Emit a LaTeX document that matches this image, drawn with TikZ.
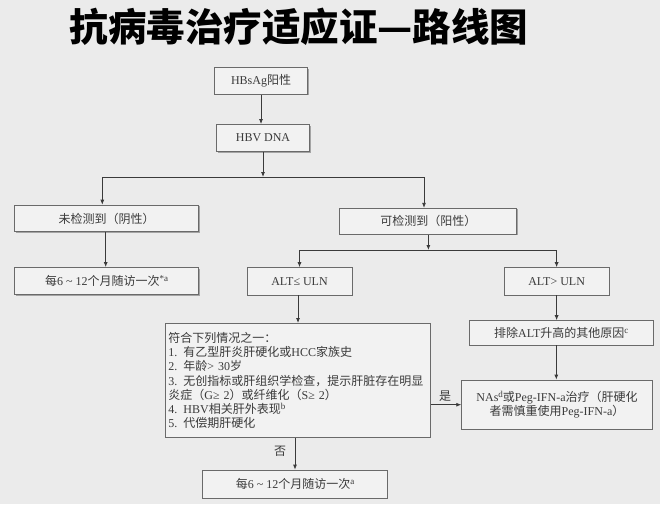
\documentclass[tikz,border=0pt]{standalone}
\usepackage{fontspec}
\setmainfont{Noto Sans CJK SC}
\newfontfamily\latinf{Liberation Serif}
\usetikzlibrary{arrows.meta,shadows}
\definecolor{bg}{HTML}{EBEBEB}
\definecolor{boxfill}{HTML}{F2F2F2}
\definecolor{boxline}{HTML}{6A6A6A}
\definecolor{txt}{HTML}{3A3A3A}
\newcommand\lt[1]{{\latinf #1}}
\newcommand\sps[1]{\raisebox{4pt}{\fontsize{9}{9}\selectfont\latinf #1}}
\begin{document}
\begin{tikzpicture}[x=1pt,y=-1pt,
  box/.style={draw=boxline, line width=0.9pt, fill=boxfill, text=txt,
    font=\fontsize{12}{14}\selectfont, inner sep=2pt,
    drop shadow={shadow xshift=1pt, shadow yshift=-1pt, fill=black, opacity=0.3}},
  arr/.style={draw=txt, line width=0.8pt, -{Latex[length=5pt,width=4pt]}},
  lbl/.style={text=txt, font=\fontsize{12}{14}\selectfont, inner sep=1pt}
]
\fill[bg] (0,0) rectangle (660,504);
\useasboundingbox (0,0) rectangle (660,504);

\node[font=\fontsize{38.5}{40}\selectfont\bfseries, text=black] (title) at (299,27) {抗病毒治疗适应证—路线图};

\node[box, minimum width=93pt, minimum height=26.6pt] (hbs) at (261,81) {\lt{HBsAg}阳性};
\node[box, minimum width=93pt, minimum height=27pt] (hbv) at (263,138) {\lt{HBV DNA}};
\coordinate (j1) at (263,177);
\node[box, minimum width=184pt, minimum height=26.7pt] (neg) at (106.7,218.5) {未检测到（阴性）};
\node[box, minimum width=177pt, minimum height=26pt] (pos) at (428.4,221.3) {可检测到（阳性）};
\node[box, minimum width=184pt, minimum height=27pt] (negf) at (106.7,281) {每\lt{6 \textasciitilde{} 12}个月随访一次\sps{*a}};
\coordinate (j2) at (428.4,250);
\node[box, minimum width=105pt, minimum height=27.3pt] (altl) at (299.5,281.3) {\lt{ALT≤ ULN}};
\node[box, minimum width=105pt, minimum height=27.3pt] (altg) at (556.6,281.3) {\lt{ALT> ULN}};

\node[box, anchor=north west, text width=259pt, minimum height=114pt, align=left,
  inner sep=3pt, font=\fontsize{12}{14.2}\selectfont] (cond) at (165,323)
  {符合下列情况之一：\\
   \lt{1.} 有乙型肝炎肝硬化或\lt{HCC}家族史\\
   \lt{2.} 年龄\lt{> 30}岁\\
   \lt{3.} 无创指标或肝组织学检查，提示肝脏存在明显\\
   炎症（\lt{G≥ 2}）或纤维化（\lt{S≥ 2}）\\
   \lt{4. HBV}相关肝外表现\sps{b}\\
   \lt{5.} 代偿期肝硬化};

\node[box, minimum width=184pt, minimum height=24.3pt] (excl) at (561.3,332.8) {排除\lt{ALT}升高的其他原因\sps{c}};
\node[box, minimum width=190.6pt, minimum height=49.3pt, align=center,
  font=\fontsize{12}{13.5}\selectfont] (treat) at (557,404.7)
  {\lt{NAs}\sps{d}或\lt{Peg-IFN-a}治疗（肝硬化\\者需慎重使用\lt{Peg-IFN-a}）};
\node[box, minimum width=184.6pt, minimum height=28.3pt] (fup) at (295,484.2) {每\lt{6 \textasciitilde{} 12}个月随访一次\sps{a}};

\node[lbl] (yes) at (445,396) {是};
\node[lbl] (no) at (280,451.7) {否};

\draw[arr] (hbs.south) -- (hbs.south |- hbv.north);
\draw[arr] (hbv.south) -- (j1);
\draw[arr] (j1) -| ([xshift=-4.4pt]neg.north);
\draw[arr] (j1) -| ([xshift=-4.4pt]pos.north);
\draw[arr] ([xshift=-1pt]neg.south) -- ([xshift=-1pt]negf.north);
\draw[arr] (pos.south) -- (j2);
\draw[arr] (j2) -| (altl.north);
\draw[arr] (j2) -| (altg.north);
\draw[arr] ([xshift=-1.5pt]altl.south) -- ([xshift=-1.5pt]altl.south |- cond.north);
\draw[arr] (altg.south) -- (altg.south |- excl.north);
\draw[arr] ([xshift=-5pt]excl.south) -- ([xshift=-5pt]excl.south |- treat.north);
\draw[arr] (cond.east |- treat.west) -- (treat.west);
\draw[arr] (fup.north |- cond.south) -- (fup.north);
\end{tikzpicture}
\end{document}
